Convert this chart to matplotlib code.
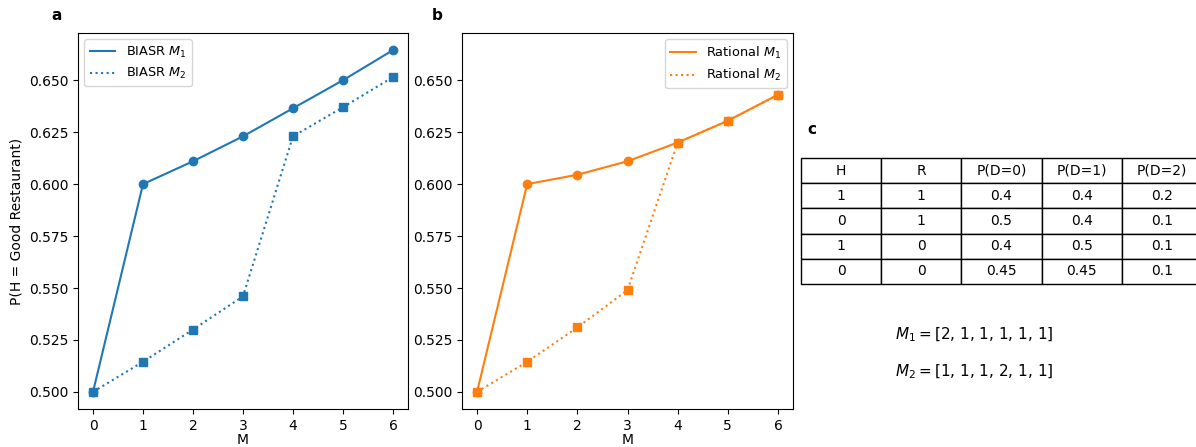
import matplotlib
matplotlib.use("Agg")
import matplotlib.pyplot as plt

M = [0, 1, 2, 3, 4, 5, 6]
biasr_m1 = [0.500, 0.600, 0.611, 0.623, 0.6365, 0.650, 0.6645]
biasr_m2 = [0.500, 0.5145, 0.530, 0.546, 0.623, 0.637, 0.6515]
rational_m1 = [0.500, 0.600, 0.6045, 0.611, 0.620, 0.6305, 0.643]
rational_m2 = [0.500, 0.5145, 0.531, 0.549, 0.620, 0.6305, 0.643]

col_labels = ["H", "R", "P(D=0)", "P(D=1)", "P(D=2)"]
table_rows = [["1", "1", "0.4", "0.4", "0.2"],
              ["0", "1", "0.5", "0.4", "0.1"],
              ["1", "0", "0.4", "0.5", "0.1"],
              ["0", "0", "0.45", "0.45", "0.1"]]
m1_seq = "[2, 1, 1, 1, 1, 1]"
m2_seq = "[1, 1, 1, 2, 1, 1]"

W, H = 1196, 447
fig = plt.figure(figsize=(W / 100, H / 100), dpi=100)
plt.rcParams['font.size'] = 10

def px(l, t, r, b):
    return [l / W, 1 - b / H, (r - l) / W, (b - t) / H]

blue = "#1f77b4"
orange = "#ff7f0e"

ax1 = fig.add_axes(px(78, 33, 408, 409))
ax2 = fig.add_axes(px(462, 33, 793, 409), sharey=ax1)

def draw(ax, y1, y2, color, name):
    ax.plot(M, y1, '-', color=color, label=name + r' $M_1$')
    ax.plot(M, y2, ':', color=color, label=name + r' $M_2$')
    ax.plot(M, y1, 'o', color=color, markersize=6)
    ax.plot(M, y2, 's', color=color, markersize=6)

draw(ax1, biasr_m1, biasr_m2, blue, "BIASR")
draw(ax2, rational_m1, rational_m2, orange, "Rational")

for ax in (ax1, ax2):
    ax.set_xticks(M)
    ax.set_yticks([0.500, 0.525, 0.550, 0.575, 0.600, 0.625, 0.650])
    ax.set_xlabel("M", labelpad=0)
ax1.set_ylabel("P(H = Good Restaurant)")
ax1.legend(loc='upper left', handlelength=2.0, fontsize=9.3)
ax2.legend(loc='upper right', handlelength=2.0, fontsize=9.3)

fig.text(57 / W, 1 - 15 / H, "a", fontweight='bold', fontsize=11, ha='center', va='center')
fig.text(437 / W, 1 - 15 / H, "b", fontweight='bold', fontsize=11, ha='center', va='center')
fig.text(812 / W, 1 - 130 / H, "c", fontweight='bold', fontsize=11, ha='center', va='center')

ax3 = fig.add_axes(px(801, 158, 1202, 284))
ax3.axis('off')
tbl = ax3.table(cellText=table_rows, colLabels=col_labels, cellLoc='center',
                bbox=[0, 0, 1, 1])
tbl.auto_set_font_size(False)
tbl.set_fontsize(10)
for cell in tbl.get_celld().values():
    cell.set_linewidth(1.0)

fig.text(895 / W, 1 - 335 / H, r'$M_1 = $' + m1_seq, fontsize=11, ha='left', va='center')
fig.text(895 / W, 1 - 372 / H, r'$M_2 = $' + m2_seq, fontsize=11, ha='left', va='center')

fig.savefig("out.png", dpi=100)
